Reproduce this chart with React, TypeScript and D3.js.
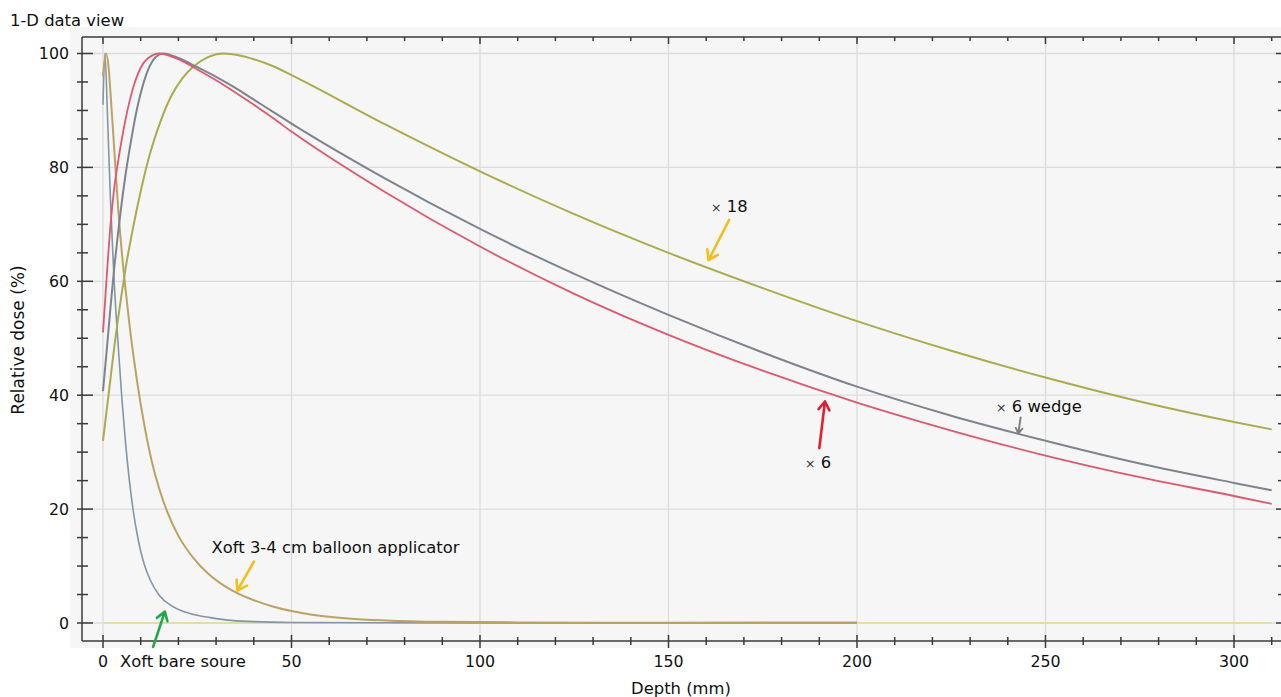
import React from "react";
import * as d3 from "d3";

// depth (mm) / relative dose (%)
const x18Depth = [0, 1, 2, 3, 4, 5, 6, 8, 10, 12, 15, 18, 21, 24, 28, 32, 36, 40, 45, 50, 75, 100, 125, 150, 175, 200, 225, 250, 275, 300, 310];
const x18Dose = [32, 37.5, 43, 48.5, 53.5, 58, 62.3, 69.5, 75.8, 81.3, 87.6, 92.4, 95.6, 97.7, 99.4, 100, 99.7, 99.0, 97.8, 96.2, 87.5, 79.3, 71.8, 65.0, 58.8, 53.0, 47.8, 43.1, 38.9, 35.3, 34.0];

const x6Depth = [0, 1, 2, 3, 4, 5, 6, 7, 8, 10, 12, 15, 20, 25, 30, 35, 40, 45, 50, 75, 100, 125, 150, 175, 200, 225, 250, 275, 300, 310];
const x6Dose = [51, 61, 70, 76.5, 81, 85, 88.5, 91.5, 94, 97.5, 99.2, 100, 99.0, 97.2, 95.3, 93.2, 91.0, 88.7, 86.3, 75.6, 66.1, 57.8, 50.6, 44.3, 38.7, 33.8, 29.4, 25.6, 22.3, 20.9];

const wedgeDepth = [0, 1, 2, 3, 4, 5, 6, 7, 8, 9, 10, 12, 14, 16, 20, 25, 30, 35, 40, 45, 50, 75, 100, 125, 150, 175, 200, 225, 250, 275, 300, 310];
const wedgeDose = [40.7, 48, 55.5, 62.5, 68.5, 74, 78.8, 83, 86.8, 90.2, 93, 97.2, 99.4, 100, 99.2, 97.6, 95.9, 94.0, 91.9, 89.8, 87.7, 78.0, 69.2, 61.3, 54.1, 47.5, 41.5, 36.4, 32.0, 28.0, 24.6, 23.3];

const balloonDepth = [0, 0.8, 1.5, 2, 3, 4, 5, 6, 7, 8, 9, 10, 11, 12, 13, 15, 17, 20, 24, 28, 32, 36, 40, 45, 50, 55, 65, 75, 90, 110, 150, 200];
const balloonDose = [96, 100, 97.5, 93, 83, 73, 65, 58.5, 52.5, 47.3, 42.6, 38.4, 34.6, 31.2, 28.2, 23.4, 19.6, 15.3, 11.4, 8.6, 6.6, 5.1, 4.0, 2.9, 2.1, 1.5, 0.8, 0.45, 0.2, 0.1, 0.05, 0.1];

const bareDepth = [0, 0.5, 1.3, 2, 2.6, 3, 4, 5, 6, 7, 8, 9, 10, 11, 12.5, 15, 18, 21, 24, 28, 33, 40, 50, 100, 200];
const bareDose = [91, 100, 87, 74, 65, 59.5, 49, 39.5, 31.5, 25, 19.8, 15.8, 12.6, 10.2, 7.6, 4.8, 3.1, 2.1, 1.5, 1, 0.5, 0.25, 0.1, 0, 0];

const zeroDepth = [0, 310];
const zeroDose = [0, 0];

const xMajor = [0, 50, 100, 150, 200, 250, 300];
const yMajor = [0, 20, 40, 60, 80, 100];

const W = 1281;
const H = 697;
const left = 82;
const top = 37;
const bottom = 641;
const right = 1281;

const font = "'DejaVu Sans', Verdana, sans-serif";

const x = d3.scaleLinear().domain([0, 300]).range([103, 1234]);
const y = d3.scaleLinear().domain([0, 100]).range([623, 53.5]);

const line = d3
  .line<[number, number]>()
  .x(d => x(d[0]))
  .y(d => y(d[1]))
  .curve(d3.curveMonotoneX);

const zip = (a: number[], b: number[]) => a.map((v, i) => [v, b[i]] as [number, number]);

const series = [
  { depth: zeroDepth, dose: zeroDose, color: "#e2dea6", w: 2.2 },
  { depth: bareDepth, dose: bareDose, color: "#8396a4", w: 1.6 },
  { depth: balloonDepth, dose: balloonDose, color: "#bca262", w: 2 },
  { depth: x18Depth, dose: x18Dose, color: "#a9ac4c", w: 2 },
  { depth: wedgeDepth, dose: wedgeDose, color: "#7e848d", w: 2 },
  { depth: x6Depth, dose: x6Dose, color: "#dc5a70", w: 1.8 }
];

// annotation text + arrows, in data coordinates
const notes = [
  { times: true, label: "18", at: [161.3, 72.2], from: [166.1, 70.8], to: [160.6, 63.7], color: "#f0c020", head: 11, w: 2.6 },
  { times: true, label: "6 wedge", at: [236.9, 37.0], from: [243.4, 36.1], to: [242.8, 33.3], color: "#808080", head: 6, w: 2 },
  { times: true, label: "6", at: [186.2, 27.2], from: [190.0, 30.7], to: [191.5, 38.9], color: "#e02030", head: 10, w: 2.6 },
  { times: false, label: "Xoft 3-4 cm balloon applicator", at: [28.8, 12.3], from: [40.05, 10.8], to: [35.6, 5.7], color: "#f0c020", head: 11, w: 2.6 },
  { times: false, label: "Xoft bare soure", at: [4.5, -7.7], from: [13.3, -4.2], to: [16.4, 2.0], color: "#22a84a", head: 10, w: 2.6 }
];

const arrowPath = (from: number[], to: number[], len: number) => {
  const x0 = x(from[0]), y0 = y(from[1]), x1 = x(to[0]), y1 = y(to[1]);
  const a = Math.atan2(y1 - y0, x1 - x0);
  const s = 0.58;
  const p1 = [x1 - len * Math.cos(a - s), y1 - len * Math.sin(a - s)];
  const p2 = [x1 - len * Math.cos(a + s), y1 - len * Math.sin(a + s)];
  return `M${x0},${y0}L${x1},${y1}M${p1[0]},${p1[1]}L${x1},${y1}L${p2[0]},${p2[1]}`;
};

export default function App() {
  const xMinor = d3.range(0, 311, 10);
  const yMinor = d3.range(0, 101, 5);

  return (
    <svg width={W} height={H} style={{ position: "absolute", left: 0, top: 0, background: "#fff" }}>
      <rect x={70} y={27} width={W - 70} height={648 - 27} fill="#f6f6f6" />

      {/* grid */}
      {xMajor.map(d => (
        <line key={"gx" + d} x1={x(d)} x2={x(d)} y1={top} y2={bottom} stroke="#dcdcdc" strokeWidth={1.3} />
      ))}
      {yMajor.map(d => (
        <line key={"gy" + d} x1={left} x2={right} y1={y(d)} y2={y(d)} stroke="#dcdcdc" strokeWidth={1.3} />
      ))}

      {/* curves */}
      {series.map((s, i) => (
        <path key={i} d={line(zip(s.depth, s.dose)) || ""} fill="none" stroke={s.color} strokeWidth={s.w} strokeLinejoin="round" />
      ))}

      {/* axes */}
      <g stroke="#3a3a3a" strokeWidth={1.5}>
        <line x1={left} x2={left} y1={top} y2={bottom} />
        <line x1={left} x2={right} y1={bottom} y2={bottom} />
        <line x1={left} x2={right} y1={top} y2={top} />
        {xMinor.map(d => {
          const major = d % 50 === 0;
          return (
            <g key={"tx" + d}>
              <line x1={x(d)} x2={x(d)} y1={bottom - (major ? 6 : 4)} y2={bottom + (major ? 7 : 4)} />
              <line x1={x(d)} x2={x(d)} y1={top} y2={top + (major ? 7 : 4)} />
            </g>
          );
        })}
        {yMinor.map(d => {
          const major = d % 20 === 0;
          return (
            <g key={"ty" + d}>
              <line x1={left - 5} x2={left + (major ? 11 : 6)} y1={y(d)} y2={y(d)} />
              <line x1={right - (major ? 5 : 3)} x2={right} y1={y(d)} y2={y(d)} />
            </g>
          );
        })}
      </g>

      {/* tick labels */}
      <g fontFamily={font} fontSize={15.8} fill="#111">
        {xMajor.map(d => (
          <text key={"lx" + d} x={x(d)} y={667} textAnchor="middle">{d}</text>
        ))}
        {yMajor.map(d => (
          <text key={"ly" + d} x={69} y={y(d)} textAnchor="end" dominantBaseline="central">{d}</text>
        ))}
      </g>

      <text x={10} y={26} fontFamily={font} fontSize={16.4} fill="#111">1-D data view</text>
      <text x={681} y={694} fontFamily={font} fontSize={16.4} fill="#111" textAnchor="middle">Depth (mm)</text>
      <text transform="translate(24,340) rotate(-90)" fontFamily={font} fontSize={17} fill="#111" textAnchor="middle">
        Relative dose (%)
      </text>

      {/* annotations */}
      {notes.map((n, i) => (
        <g key={"n" + i}>
          <path d={arrowPath(n.from, n.to, n.head)} fill="none" stroke={n.color} strokeWidth={n.w} strokeLinecap="round" strokeLinejoin="round" />
          <text x={x(n.at[0])} y={y(n.at[1])} fontFamily={font} fontSize={16.4} fill="#111">
            {n.times && <tspan fontSize={12.5} fill="#333">×</tspan>}
            {n.times ? " " + n.label : n.label}
          </text>
        </g>
      ))}
    </svg>
  );
}
